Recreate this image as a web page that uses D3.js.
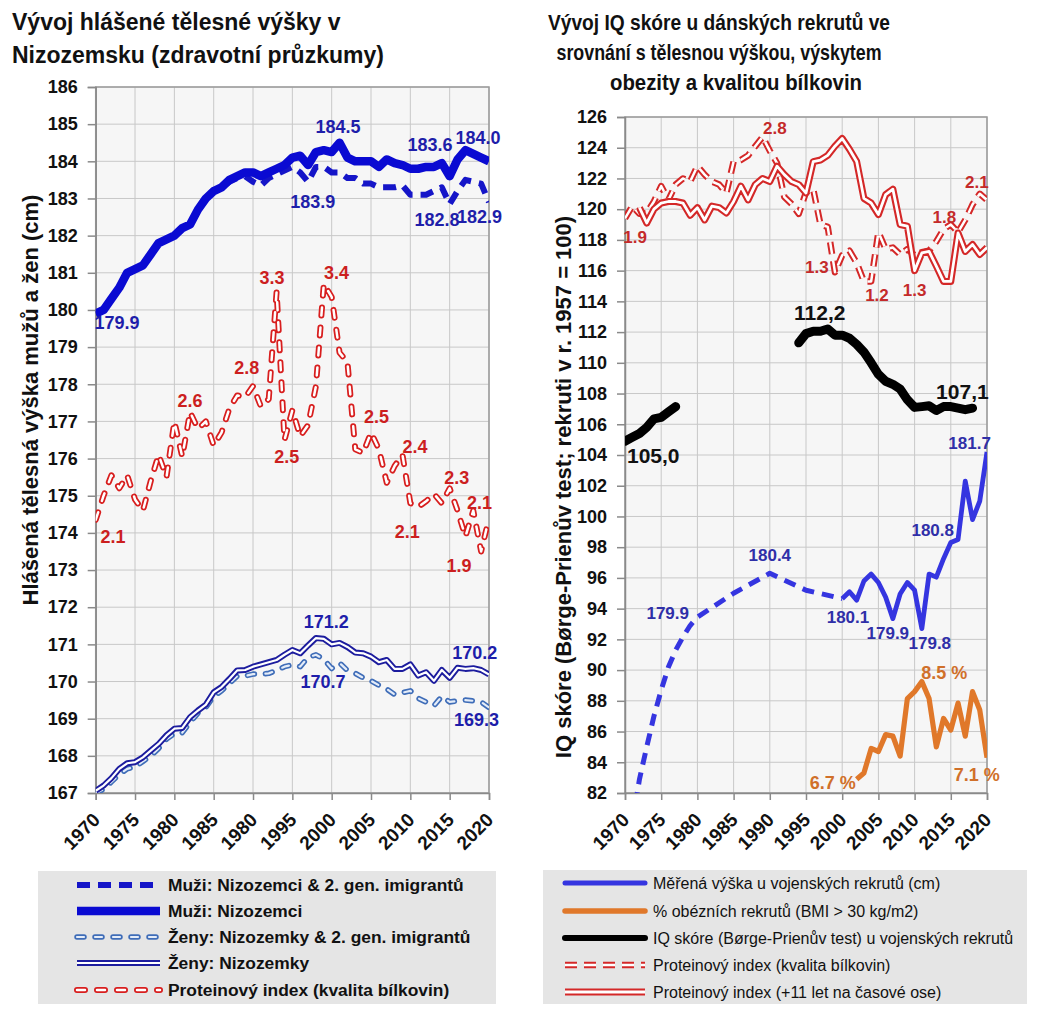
<!DOCTYPE html>
<html>
<head>
<meta charset="UTF-8" />
<script src="https://cdnjs.cloudflare.com/ajax/libs/d3/7.8.5/d3.min.js"></script>
<style>
  body { margin: 0; background: #fff; }
  text { font-family: "Liberation Sans", Arial, sans-serif; }
  .grid line { stroke: #c8c8c8; stroke-width: 1; }
  .axis text { font-weight: bold; font-size: 18px; fill: #111; }
  .axis path, .axis line { stroke: #8a8a8a; stroke-width: 1.5; }
  .title { font-weight: bold; font-size: 23px; fill: #111; }
  .ytitle { font-weight: bold; font-size: 22px; fill: #111; }
</style>
</head>
<body>
<svg id="chart" width="1039" height="1024"></svg>
<script>
// ---------- data ----------
const years = d3.range(1970, 2021);
const xTickValues = d3.range(1970, 2021, 5);
const xTickLabelsLeft = ["1970", "1975", "1980", "1985", "1980", "1995", "2000", "2005", "2010", "2015", "2020"];
const xTickLabelsRight = ["1970", "1975", "1980", "1985", "1990", "1995", "2000", "2005", "2010", "2015", "2020"];

// left: reported height, Netherlands (cm), 1970-2020
const menNL = [179.9, 180.0, 180.3, 180.6, 181.0, 181.1, 181.2, 181.5, 181.8, 181.9,
  182.0, 182.2, 182.3, 182.7, 183.0, 183.2, 183.3, 183.5, 183.6, 183.7,
  183.7, 183.6, 183.7, 183.8, 183.9, 184.1, 184.15, 183.9, 184.25, 184.3,
  184.25, 184.5, 184.1, 184.0, 184.0, 184.0, 183.85, 184.05, 183.95, 183.9,
  183.8, 183.8, 183.85, 183.85, 183.95, 183.6, 184.05, 184.3, 184.2, 184.1, 184.0];
const menAll = [179.9, 180.0, 180.3, 180.6, 181.0, 181.1, 181.2, 181.5, 181.8, 181.9,
  182.0, 182.2, 182.3, 182.7, 183.0, 183.2, 183.3, 183.45, 183.55, 183.6,
  183.45, 183.35, 183.55, 183.65, 183.75, 183.85, 183.7, 183.45, 183.85, 183.85,
  183.7, 183.7, 183.55, 183.55, 183.4, 183.4, 183.3, 183.3, 183.3, 183.35,
  183.1, 183.1, 183.1, 183.2, 183.3, 182.85, 183.2, 183.5, 183.45, 183.4, 182.9];
const womenNL = [167.06, 167.2, 167.4, 167.65, 167.8, 167.83, 167.96, 168.14, 168.32, 168.55,
  168.73, 168.75, 169.04, 169.22, 169.38, 169.71, 169.85, 170.07, 170.3, 170.31,
  170.4, 170.46, 170.52, 170.58, 170.72, 170.85, 170.76, 170.97, 171.17, 171.15,
  171.0, 171.04, 170.93, 170.78, 170.76, 170.67, 170.52, 170.58, 170.34, 170.34,
  170.46, 170.16, 170.25, 170.02, 170.31, 170.1, 170.37, 170.34, 170.36, 170.31, 170.19];
const womenAll = [167.0, 167.1, 167.3, 167.5, 167.65, 167.7, 167.85, 168.0, 168.2, 168.45,
  168.6, 168.62, 168.9, 169.15, 169.3, 169.6, 169.75, 169.95, 170.15, 170.15,
  170.2, 170.2, 170.22, 170.3, 170.4, 170.45, 170.4, 170.65, 170.72, 170.6,
  170.35, 170.5, 170.3, 170.22, 170.1, 170.02, 169.9, 169.8, 169.65, 169.7,
  169.75, 169.55, 169.45, 169.35, 169.6, 169.45, 169.48, 169.5, 169.48, 169.45, 169.3];
const proteinLeft = [174.35, 175.0, 175.55, 175.2, 175.55, 174.9, 174.6, 175.4, 176.1, 175.5,
  177.0, 176.05, 177.25, 176.8, 177.0, 176.35, 176.7, 177.35, 177.7, 177.65,
  177.95, 177.4, 177.6, 180.5, 176.5, 177.3, 176.6, 176.9, 177.95, 180.7,
  180.35, 178.85, 178.6, 176.25, 176.15, 176.7, 176.25, 175.35, 175.8, 176.1,
  174.8, 174.7, 174.85, 175.05, 174.8, 175.2, 174.6, 173.9, 174.6, 173.5, 174.4];

// right: Danish recruits (IQ axis units), 1970-2020, null = no data
const proteinRight = [119.4, 120.2, 119.7, 119.75, 120.5, 121.5, 120.6, 121.6, 122.0, 121.8,
  122.8, 122.25, 121.8, 121.6, 121.05, 123.1, 123.2, 123.5, 124.1, 124.7,
  123.8, 123.0, 120.8, 120.35, 119.7, 121.1, 121.3, 119.0, 118.85, 115.9,
  117.0, 117.3, 116.5, 115.3, 115.3, 118.5, 117.4, 117.5, 117.05, 117.4,
  117.0, 117.2, 117.3, 117.9, 118.7, 119.0, 118.5, 119.3, 120.3, 121.0, 120.6];
const proteinShifted = [null, null, 120.1, 119.1, 120.0, 120.4, 120.5, 120.5, 120.4, 119.6,
  120.1, 119.3, 120.2, 120.1, 119.75, 120.5, 121.5, 120.6, 121.6, 122.0,
  121.8, 122.8, 122.25, 121.8, 121.6, 121.05, 123.1, 123.2, 123.5, 124.1,
  124.6, 123.9, 123.1, 120.7, 120.4, 119.65, 120.95, 121.3, 119.0, 118.9,
  116.0, 117.15, 117.25, 116.3, 115.3, 115.3, 118.45, 117.25, 117.7, 117.05, 117.5];
const iqScore = [104.9, 105.15, 105.4, 105.8, 106.35, 106.45, 106.8, 107.15, null, null,
  null, null, null, null, null, null, null, null, null, null,
  null, null, null, null, 111.3, 111.9, 112.05, 112.05, 112.2, 111.8,
  111.8, 111.6, 111.2, 110.7, 110.0, 109.25, 108.8, 108.6, 108.3, 107.6,
  107.1, 107.15, 107.2, 106.9, 107.15, 107.15, 107.05, 106.95, 107.05, null, null];
const heightEarlyYears = [1971, 1972, 1973, 1974, 1975, 1976, 1977, 1978, 1979, 1980, 1985, 1990, 1995, 2000];
const heightEarly = [80.0, 82.9, 85.0, 87.0, 88.7, 90.2, 91.3, 92.15, 92.9, 93.45, 95.0, 96.3, 95.2, 94.65];
const heightYears = d3.range(2000, 2021);
const heightRecent = [94.65, 95.1, 94.55, 95.8, 96.25, 95.7, 94.75, 93.35, 94.95, 95.7,
  95.2, 92.7, 96.25, 96.05, 97.25, 98.3, 98.5, 102.3, 99.8, 101.0, 104.2];
const obesityYears = d3.range(2002, 2021);
const obesity = [82.9, 83.3, 84.9, 84.7, 85.8, 85.7, 84.4, 88.15, 88.6, 89.25,
  88.15, 85.0, 86.85, 86.1, 87.85, 85.7, 88.6, 87.4, 84.3];

// annotations: [year, value, text]
const menLabels = [[1972.7, 179.65, "179.9"], [2000.8, 184.92, "184.5"], [1997.6, 182.9, "183.9"],
  [2012.5, 184.44, "183.6"], [2018.6, 184.63, "184.0"], [2013.4, 182.42, "182.8"], [2018.8, 182.5, "182.9"]];
const womenLabels = [[1999.3, 171.61, "171.2"], [1998.9, 169.99, "170.7"], [2018.2, 170.77, "170.2"], [2018.4, 168.97, "169.3"]];
const proteinLeftLabels = [[1972.2, 173.9, "2.1"], [1982.0, 177.55, "2.6"], [1989.2, 178.44, "2.8"],
  [1992.4, 180.86, "3.3"], [1994.3, 176.05, "2.5"], [2000.6, 181.0, "3.4"], [2005.7, 177.12, "2.5"],
  [2010.6, 176.31, "2.4"], [2009.6, 174.03, "2.1"], [2015.9, 175.48, "2.3"], [2016.2, 173.11, "1.9"], [2018.8, 174.81, "2.1"]];
const proteinRightLabels = [[1971.4, 118.19, "1.9"], [1990.7, 125.28, "2.8"], [1996.5, 116.23, "1.3"],
  [2004.8, 114.41, "1.2"], [2010.0, 114.74, "1.3"], [2014.1, 119.49, "1.8"], [2018.6, 121.77, "2.1"]];
const iqLabels = [[1996.9, 113.24, "112,2"], [1973.9, 103.93, "105,0"], [2016.6, 108.1, "107,1"]];
const heightLabels = [[1990.0, 97.48, "180.4"], [1975.9, 93.71, "179.9"], [2000.8, 93.45, "180.1"],
  [2006.3, 92.41, "179.9"], [2012.1, 91.76, "179.8"], [2012.5, 99.11, "180.8"], [2017.6, 104.78, "181.7"]];
const obesityLabels = [[2014.1, 89.8, "8.5 %"], [1998.7, 82.7, "6.7 %"], [2018.6, 83.16, "7.1 %"]];

const titleLeft = ["Vývoj hlášené tělesné výšky v", "Nizozemsku (zdravotní průzkumy)"];
const titleRight = ["Vývoj IQ skóre u dánských rekrutů ve", "srovnání s tělesnou výškou, výskytem", "obezity a kvalitou bílkovin"];
const legendLeft = ["Muži: Nizozemci & 2. gen. imigrantů", "Muži: Nizozemci", "Ženy: Nizozemky & 2. gen. imigrantů", "Ženy: Nizozemky", "Proteinový index (kvalita bílkovin)"];
const legendRight = ["Měřená výška u vojenských rekrutů (cm)", "% obézních rekrutů (BMI > 30 kg/m2)", "IQ skóre (Børge-Prienův test) u vojenských rekrutů", "Proteinový index (kvalita bílkovin)", "Proteinový index (+11 let na časové ose)"];

// ---------- styles ----------
const sMenAll = { color: "#1515c8", width: 6, dash: "13 8" };
const sMenNL = { color: "#0a0ad2", width: 8.5 };
const sWomenAll = { color: "#3f6db8", width: 5.5, inner: "#e4ecf8", innerWidth: 2.2, dash: "7 11", cap: "round" };
const sWomenNL = { color: "#1c1c9e", width: 6, inner: "#ffffff", innerWidth: 2.2 };
const sProtL = { color: "#d81e1e", width: 6, inner: "#ffffff", innerWidth: 2.5, dash: "8 12", cap: "round" };
const sProtR = { color: "#d42828", width: 6.5, inner: "#ffffff", innerWidth: 2.5, dash: "12 7" };
const sProtShift = { color: "#d42828", width: 7, inner: "#ffffff", innerWidth: 2.8 };
const sIQ = { color: "#000000", width: 9, cap: "round" };
const sHeightDash = { color: "#3535e0", width: 5, dash: "12 8" };
const sHeight = { color: "#3535e0", width: 4.8 };
const sObesity = { color: "#e0782a", width: 5.2 };

const svg = d3.select("#chart");

function drawLine(g, pts, x, y, s) {
  const line = d3.line().defined(d => d[1] != null).x(d => x(d[0])).y(d => y(d[1]));
  const p = g.append("path").datum(pts).attr("d", line)
    .attr("fill", "none").attr("stroke", s.color).attr("stroke-width", s.width)
    .attr("stroke-linejoin", "round").attr("stroke-linecap", s.cap || "butt");
  if (s.dash) p.attr("stroke-dasharray", s.dash);
  if (s.inner) {
    const q = g.append("path").datum(pts).attr("d", line)
      .attr("fill", "none").attr("stroke", s.inner).attr("stroke-width", s.innerWidth)
      .attr("stroke-linejoin", "round").attr("stroke-linecap", s.cap || "butt");
    if (s.dash) q.attr("stroke-dasharray", s.dash);
  }
}

function drawLabels(g, labels, x, y, color, size, weight) {
  g.selectAll(null).data(labels).enter().append("text")
    .attr("x", d => x(d[0])).attr("y", d => y(d[1])).attr("dy", "0.35em")
    .attr("text-anchor", "middle").attr("fill", color)
    .style("font-size", size + "px").style("font-weight", weight || "bold")
    .text(d => d[2]);
}

function frame(id, x, y, yTicks, xLabels) {
  const [x0, x1] = x.range(), [y1, y0] = y.range();
  svg.append("rect").attr("x", x0).attr("y", y0).attr("width", x1 - x0).attr("height", y1 - y0).attr("fill", "#f6f6f6");
  const grid = svg.append("g").attr("class", "grid");
  grid.selectAll(null).data(xTickValues).enter().append("line")
    .attr("x1", d => x(d)).attr("x2", d => x(d)).attr("y1", y0).attr("y2", y1);
  grid.selectAll(null).data(yTicks).enter().append("line")
    .attr("y1", d => y(d)).attr("y2", d => y(d)).attr("x1", x0).attr("x2", x1);
  svg.append("rect").attr("x", x0).attr("y", y0).attr("width", x1 - x0).attr("height", y1 - y0)
    .attr("fill", "none").attr("stroke", "#9a9a9a").attr("stroke-width", 1.5);

  svg.append("g").attr("class", "axis").attr("transform", `translate(${x0},0)`)
    .call(d3.axisLeft(y).tickValues(yTicks).tickSize(8).tickPadding(10).tickFormat(d3.format("d")));
  const xa = svg.append("g").attr("class", "axis").attr("transform", `translate(0,${y1})`)
    .call(d3.axisBottom(x).tickValues(xTickValues).tickSize(7).tickFormat((d, i) => xLabels[i]));
  xa.selectAll("text").attr("x", 0).attr("y", 0).attr("dy", 0).style("font-size", "19px")
    .attr("text-anchor", "end").attr("transform", "translate(5,28) rotate(-45)");
  svg.append("clipPath").attr("id", id).append("rect")
    .attr("x", x0).attr("y", y0).attr("width", x1 - x0).attr("height", y1 - y0);
  return svg.append("g").attr("clip-path", `url(#${id})`);
}

const zip = (xs, vs) => xs.map((yr, i) => [yr, vs[i]]);

// ---------- left chart ----------
const xL = d3.scaleLinear().domain([1970, 2020]).range([95.7, 489]);
const yL = d3.scaleLinear().domain([167, 186]).range([793, 87]);
const gL = frame("clipL", xL, yL, d3.range(167, 187), xTickLabelsLeft);
drawLine(gL, zip(years, proteinLeft), xL, yL, sProtL);
drawLine(gL, zip(years, womenAll), xL, yL, sWomenAll);
drawLine(gL, zip(years, womenNL), xL, yL, sWomenNL);
drawLine(gL, zip(years, menAll), xL, yL, sMenAll);
drawLine(gL, zip(years, menNL), xL, yL, sMenNL);
const aL = svg.append("g");
drawLabels(aL, menLabels, xL, yL, "#1e1eaa", 18);
drawLabels(aL, womenLabels, xL, yL, "#1e1eaa", 18);
drawLabels(aL, proteinLeftLabels, xL, yL, "#cc1f1f", 18);

titleLeft.forEach((t, i) => svg.append("text").attr("class", "title")
  .attr("x", 12).attr("y", 30 + i * 33).text(t));
svg.append("text").attr("class", "ytitle").attr("text-anchor", "middle")
  .attr("transform", "translate(38,400) rotate(-90)").text("Hlášená tělesná výška mužů a žen (cm)");

// ---------- right chart ----------
const xR = d3.scaleLinear().domain([1970, 2020]).range([625, 987]);
const yR = d3.scaleLinear().domain([82, 126]).range([793, 117]);
const gR = frame("clipR", xR, yR, d3.range(82, 127, 2), xTickLabelsRight);
drawLine(gR, zip(years, proteinRight), xR, yR, sProtR);
drawLine(gR, zip(years, proteinShifted), xR, yR, sProtShift);
drawLine(gR, zip(heightEarlyYears, heightEarly), xR, yR, sHeightDash);
drawLine(gR, zip(heightYears, heightRecent), xR, yR, sHeight);
drawLine(gR, zip(obesityYears, obesity), xR, yR, sObesity);
drawLine(gR, zip(years, iqScore), xR, yR, sIQ);
const aR = svg.append("g");
drawLabels(aR, proteinRightLabels, xR, yR, "#c42a2a", 17);
drawLabels(aR, iqLabels, xR, yR, "#111", 21);
drawLabels(aR, heightLabels, xR, yR, "#2f2fa8", 17);
drawLabels(aR, obesityLabels, xR, yR, "#d0702a", 18);

// right title is set in a condensed cut in the original
const titleRightWidths = [342, 325, 252];
titleRight.forEach((t, i) => svg.append("text").attr("class", "title").attr("text-anchor", "middle")
  .style("font-size", "22px")
  .attr("x", i === 2 ? 736 : 719).attr("y", 30 + i * 30)
  .attr("textLength", titleRightWidths[i]).attr("lengthAdjust", "spacingAndGlyphs").text(t));
svg.append("text").attr("class", "ytitle").attr("text-anchor", "middle")
  .attr("transform", "translate(571,487) rotate(-90)").text("IQ skóre (Børge-Prienův test; rekruti v r. 1957 = 100)");

// ---------- legends ----------
function legend(x0, y0, w, h, sx0, sx1, tx, rowsY, names, styles, weight, size) {
  const g = svg.append("g");
  g.append("rect").attr("x", x0).attr("y", y0).attr("width", w).attr("height", h).attr("fill", "#e5e5e5");
  names.forEach((n, i) => {
    drawLine(g, [[sx0, rowsY[i]], [sx1, rowsY[i]]], d => d, d => d, styles[i]);
    g.append("text").attr("x", tx).attr("y", rowsY[i]).attr("dy", "0.35em")
      .style("font-size", size + "px").style("font-weight", weight).attr("fill", "#111").text(n);
  });
}
legend(38, 871, 458, 133, 77, 160, 168, [885, 911, 937, 963, 990], legendLeft,
  [sMenAll, sMenNL, sWomenAll, sWomenNL, sProtL], "bold", 17.4);
legend(543, 870, 484, 134, 565, 645, 653, [883, 911, 938, 965, 992], legendRight,
  [{ color: "#3535e0", width: 5, cap: "round" }, { color: "#e0782a", width: 5.5, cap: "round" },
   { color: "#000", width: 6, cap: "round" }, sProtR, sProtShift], "normal", 16);
</script>
</body>
</html>
